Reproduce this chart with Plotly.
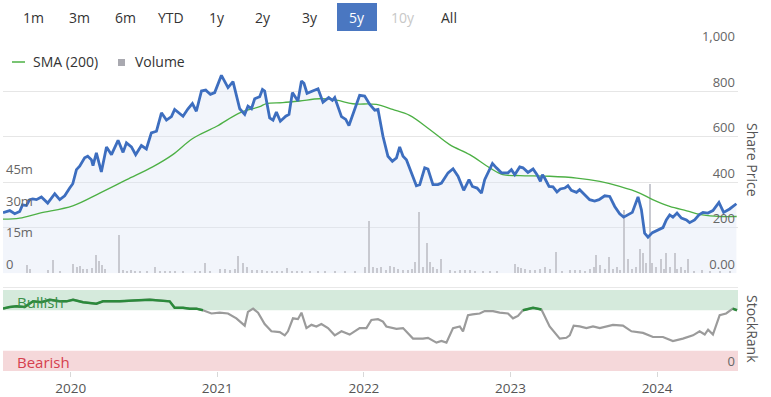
import plotly.graph_objects as go

# ---------------- data (x in decimal years) ----------------
price_year = [2019.538, 2019.584, 2019.618, 2019.652, 2019.671, 2019.698, 2019.720, 2019.741, 2019.766, 2019.800,
              2019.843, 2019.891, 2019.925, 2019.959, 2019.993, 2020.014, 2020.039, 2020.061, 2020.095, 2020.116,
              2020.141, 2020.152, 2020.175, 2020.209, 2020.244, 2020.278, 2020.323, 2020.357, 2020.380, 2020.414,
              2020.443, 2020.482, 2020.516, 2020.550, 2020.585, 2020.619, 2020.653, 2020.687, 2020.709, 2020.744,
              2020.766, 2020.800, 2020.830, 2020.857, 2020.892, 2020.921, 2020.953, 2020.982, 2021.028, 2021.073,
              2021.107, 2021.153, 2021.187, 2021.209, 2021.233, 2021.255, 2021.289, 2021.308, 2021.323, 2021.357,
              2021.380, 2021.403, 2021.430, 2021.467, 2021.489, 2021.512, 2021.550, 2021.574, 2021.591, 2021.612,
              2021.642, 2021.687, 2021.721, 2021.760, 2021.785, 2021.801, 2021.847, 2021.876, 2021.898, 2021.937,
              2021.971, 2022.005, 2022.040, 2022.074, 2022.096, 2022.130, 2022.164, 2022.194, 2022.222, 2022.244,
              2022.267, 2022.290, 2022.324, 2022.358, 2022.381, 2022.415, 2022.437, 2022.471, 2022.505, 2022.529,
              2022.574, 2022.608, 2022.642, 2022.681, 2022.717, 2022.740, 2022.772, 2022.802, 2022.824, 2022.877,
              2022.904, 2022.938, 2022.983, 2023.006, 2023.029, 2023.063, 2023.085, 2023.119, 2023.154, 2023.181,
              2023.204, 2023.218, 2023.233, 2023.263, 2023.290, 2023.317, 2023.340, 2023.370, 2023.392, 2023.415,
              2023.450, 2023.472, 2023.506, 2023.540, 2023.574, 2023.604, 2023.643, 2023.677, 2023.711, 2023.745,
              2023.772, 2023.802, 2023.831, 2023.870, 2023.893, 2023.915, 2023.938, 2023.968, 2024.006, 2024.040,
              2024.063, 2024.086, 2024.108, 2024.136, 2024.166, 2024.200, 2024.222, 2024.256, 2024.286, 2024.313,
              2024.347, 2024.381, 2024.422, 2024.454, 2024.495, 2024.541]
price_val = [267, 276, 262, 272, 301, 298, 324, 327, 324, 336,
             309, 350, 324, 341, 375, 394, 456, 471, 508, 515,
             500, 474, 530, 446, 556, 522, 585, 532, 574, 556,
             522, 562, 547, 618, 625, 706, 674, 689, 721, 703,
             691, 724, 747, 713, 802, 806, 787, 795, 871, 817,
             843, 724, 699, 735, 724, 768, 777, 809, 802, 684,
             674, 709, 669, 691, 699, 795, 758, 846, 836, 792,
             799, 812, 753, 773, 761, 773, 689, 677, 650, 721,
             783, 780, 743, 718, 721, 603, 515, 493, 508, 556,
             515, 500, 442, 385, 390, 464, 459, 390, 390, 397,
             442, 460, 427, 365, 412, 382, 375, 353, 412, 483,
             464, 442, 442, 456, 434, 468, 464, 444, 459, 434,
             404, 434, 419, 382, 380, 358, 371, 375, 385, 365,
             356, 368, 346, 324, 318, 324, 341, 338, 294, 262,
             247, 257, 268, 336, 280, 177, 159, 179, 191, 201,
             235, 257, 247, 265, 243, 235, 223, 235, 257, 268,
             265, 276, 312, 268, 283, 306]

sma_year = [2019.536, 2019.652, 2019.789, 2020.014, 2020.198, 2020.382, 2020.559, 2020.696, 2020.832, 2020.996,
            2021.153, 2021.289, 2021.335, 2021.446, 2021.562, 2021.698, 2021.812, 2021.924, 2022.085, 2022.196,
            2022.312, 2022.449, 2022.585, 2022.722, 2022.858, 2022.947, 2023.063, 2023.267, 2023.452, 2023.609,
            2023.745, 2023.881, 2023.970, 2024.086, 2024.202, 2024.311, 2024.427, 2024.543]
sma_val = [238, 243, 265, 297, 353, 412, 468, 522, 593, 647,
           706, 733, 747, 751, 758, 768, 762, 746, 743, 721,
           695, 633, 566, 522, 464, 434, 430, 427, 419, 404,
           382, 353, 324, 294, 275, 257, 250, 250]

vol_year = [2019.700, 2019.720, 2019.843, 2019.877, 2019.925, 2020.014, 2020.041, 2020.061, 2020.082, 2020.109,
            2020.143, 2020.171, 2020.191, 2020.211, 2020.232, 2020.327, 2020.355, 2020.382, 2020.409, 2020.437,
            2020.471, 2020.518, 2020.573, 2020.607, 2020.641, 2020.675, 2020.709, 2020.764, 2020.846, 2020.880,
            2020.914, 2020.948, 2021.016, 2021.050, 2021.085, 2021.119, 2021.139, 2021.173, 2021.201, 2021.235,
            2021.269, 2021.303, 2021.337, 2021.371, 2021.405, 2021.439, 2021.473, 2021.507, 2021.542, 2021.576,
            2021.630, 2021.685, 2021.733, 2021.801, 2021.869, 2021.937, 2022.005, 2022.033, 2022.060, 2022.087,
            2022.115, 2022.149, 2022.176, 2022.203, 2022.231, 2022.265, 2022.299, 2022.326, 2022.347, 2022.374,
            2022.401, 2022.428, 2022.449, 2022.469, 2022.497, 2022.524, 2022.585, 2022.619, 2022.654, 2022.688,
            2022.722, 2022.756, 2022.810, 2022.858, 2022.906, 2023.029, 2023.049, 2023.070, 2023.097, 2023.131,
            2023.165, 2023.199, 2023.233, 2023.267, 2023.313, 2023.350, 2023.404, 2023.438, 2023.472, 2023.506,
            2023.540, 2023.568, 2023.586, 2023.609, 2023.643, 2023.672, 2023.697, 2023.724, 2023.745, 2023.772,
            2023.799, 2023.827, 2023.859, 2023.886, 2023.904, 2023.922, 2023.950, 2023.968, 2023.995, 2024.029,
            2024.045, 2024.063, 2024.086, 2024.120, 2024.140, 2024.166, 2024.189, 2024.214, 2024.253, 2024.310,
            2024.359, 2024.427, 2024.495]
vol_m = [4, 2, 1.5, 6.5, 1, 4.5, 3, 3.5, 2, 2,
         2.5, 8.5, 6, 4, 2, 18, 1.5, 1, 1.5, 1,
         1, 1, 3, 1, 1, 1, 1, 1, 1, 1,
         5, 1, 2, 2, 1.5, 2, 8, 5, 3, 1.5,
         1.5, 1.5, 1, 1, 1, 1, 2.5, 1, 1, 1,
         1, 1, 1, 1, 1, 1, 3, 25, 3, 2.5,
         3, 1.5, 3.5, 3, 2, 1.5, 1.5, 2, 5.5, 29,
         3, 14.5, 5.5, 3, 2, 7, 1.5, 1, 1.5, 1.5,
         1.5, 1, 1, 1, 1, 4.5, 3, 2.5, 2, 1.5,
         1.5, 2, 3, 2, 10, 1, 1.5, 1.5, 1.5, 1,
         2, 3, 8.7, 4, 2, 7.6, 2, 3, 1.5, 30,
         6.8, 2, 3, 11.6, 9.5, 5, 42.5, 5, 3, 6.7,
         2, 9.8, 3, 9.8, 2, 3, 1.5, 6.7, 1, 1.5,
         1, 1, 1]

rank_year = [2019.538, 2019.584, 2019.630, 2019.686, 2019.743, 2019.800, 2019.857, 2019.925, 2019.971, 2020.016,
             2020.084, 2020.175, 2020.220, 2020.334, 2020.425, 2020.539, 2020.675, 2020.709, 2020.766, 2020.812,
             2020.857, 2020.902, 2020.960, 2021.016, 2021.073, 2021.130, 2021.187, 2021.209, 2021.244, 2021.278,
             2021.323, 2021.369, 2021.426, 2021.460, 2021.482, 2021.516, 2021.550, 2021.574, 2021.608, 2021.642,
             2021.676, 2021.710, 2021.755, 2021.801, 2021.847, 2021.903, 2021.971, 2022.017, 2022.051, 2022.096,
             2022.130, 2022.153, 2022.222, 2022.267, 2022.335, 2022.403, 2022.437, 2022.495, 2022.529, 2022.563,
             2022.608, 2022.654, 2022.676, 2022.710, 2022.741, 2022.790, 2022.824, 2022.881, 2022.926, 2022.983,
             2023.017, 2023.051, 2023.085, 2023.154, 2023.211, 2023.233, 2023.267, 2023.336, 2023.381, 2023.404,
             2023.431, 2023.472, 2023.518, 2023.563, 2023.609, 2023.699, 2023.767, 2023.825, 2023.904, 2023.972,
             2024.040, 2024.108, 2024.176, 2024.245, 2024.290, 2024.325, 2024.348, 2024.381, 2024.427, 2024.471,
             2024.516, 2024.545]
rank_val = [77, 79, 80, 79, 86, 85, 88, 86, 86, 88,
            85, 83, 86, 86, 87, 88, 86, 78, 78, 77,
            77, 75, 71, 72, 71, 65, 56, 73, 77, 72,
            58, 49, 48, 44, 49, 65, 64, 72, 53, 57,
            55, 58, 53, 44, 49, 45, 53, 53, 63, 64,
            61, 55, 52, 53, 40, 40, 41, 35, 37, 35,
            53, 55, 49, 69, 70, 71, 74, 74, 72, 71,
            65, 68, 75, 78, 76, 67, 55, 40, 41, 44,
            56, 55, 53, 55, 53, 57, 56, 49, 47, 42,
            42, 37, 40, 44, 49, 45, 51, 45, 69, 71,
            77, 75]

price_ticks = [0, 200, 400, 600, 800, 1000]
price_tick_text = ["0.00", "200", "400", "600", "800", "1,000"]
vol_ticks_m = [0, 15, 30, 45]
vol_tick_text = ["0", "15m", "30m", "45m"]
year_ticks = [2020, 2021, 2022, 2023, 2024]
year_tick_text = ["2020", "2021", "2022", "2023", "2024"]
buttons = ["1m", "3m", "6m", "YTD", "1y", "2y", "3y", "5y", "10y", "All"]
bull_threshold = 75

# ---------------- geometry helpers (pixel -> paper) ----------------
W, H = 771, 397
ML, MR, MT, MB = 3, 33, 46, 26
PW, PH = W - ML - MR, H - MT - MB


def px(x):
    return (x - ML) / PW


def py(y):
    return (H - MB - y) / PH


FONT = "Open Sans"
fig = go.Figure()

# price area fill
fig.add_trace(go.Scatter(x=price_year, y=price_val, mode="lines", fill="tozeroy",
                         fillcolor="rgba(222,228,245,0.38)", line=dict(width=0, color="rgba(0,0,0,0)"),
                         xaxis="x", yaxis="y", hoverinfo="skip", showlegend=False))
# volume bars
fig.add_trace(go.Bar(x=vol_year, y=[v * 1e6 for v in vol_m], width=0.0085,
                     marker=dict(color="rgb(200,201,208)", line=dict(width=0)),
                     xaxis="x", yaxis="y2", name="Volume", showlegend=False))
# SMA
fig.add_trace(go.Scatter(x=sma_year, y=sma_val, mode="lines", line=dict(color="#4db045", width=1.3, shape="spline"),
                         xaxis="x", yaxis="y3", name="SMA (200)", showlegend=False))
# price
fig.add_trace(go.Scatter(x=price_year, y=price_val, mode="lines", line=dict(color="#3d6ebf", width=2.8),
                         xaxis="x", yaxis="y3", name="Share Price", showlegend=False))
# stockrank
fig.add_trace(go.Scatter(x=rank_year, y=rank_val, mode="lines", line=dict(color="#9b9b9b", width=2.2),
                         xaxis="x2", yaxis="y4", showlegend=False))
green_rank = [v if v >= bull_threshold else None for v in rank_val]
fig.add_trace(go.Scatter(x=rank_year, y=green_rank, mode="lines", line=dict(color="#2b8a3b", width=2.5),
                         connectgaps=False, xaxis="x2", yaxis="y4", showlegend=False))

xr = [2019.538, 2024.552]
main_dom = [py(273.3), 1]
rank_dom = [0, py(290)]

shapes = [
    dict(type="rect", xref="x2 domain", yref="y4", x0=0, x1=1, y0=75, y1=100,
         fillcolor="#d5eadc", line=dict(width=0), layer="below"),
    dict(type="rect", xref="x2 domain", yref="y4", x0=0, x1=1, y0=0, y1=25,
         fillcolor="#f5d8da", line=dict(width=0), layer="below"),
    dict(type="line", xref="paper", yref="paper", x0=0, x1=1, y0=py(287.5), y1=py(287.5),
         line=dict(color="#e8e8e8", width=1)),
    # active 5y button
    dict(type="rect", xref="paper", yref="paper", x0=px(337), x1=px(377), y0=py(31), y1=py(3),
         fillcolor="#4a77c1", line=dict(width=0)),
    # legend symbols
    dict(type="line", xref="paper", yref="paper", x0=px(12), x1=px(25), y0=py(62), y1=py(62),
         line=dict(color="#4db045", width=1.5)),
    dict(type="rect", xref="paper", yref="paper", x0=px(118), x1=px(125), y0=py(66), y1=py(59),
         fillcolor="#a9a9b0", line=dict(width=0)),
]

annotations = []
btn_x = [33, 79, 125, 171, 217, 263, 310, 357, 403, 449]
for b, bx in zip(buttons, btn_x):
    col = "#333333"
    if b == "5y":
        col = "white"
    elif b == "10y":
        col = "#c8c8c8"
    annotations.append(dict(x=px(bx), y=py(17), xref="paper", yref="paper", text=b, showarrow=False,
                            font=dict(family=FONT, size=14, color=col), xanchor="center", yanchor="middle"))

annotations += [
    dict(x=px(31), y=py(62), xref="paper", yref="paper", text="SMA (200)", showarrow=False,
         font=dict(family=FONT, size=14, color="#333"), xanchor="left", yanchor="middle"),
    dict(x=px(133), y=py(62), xref="paper", yref="paper", text="Volume", showarrow=False,
         font=dict(family=FONT, size=14, color="#333"), xanchor="left", yanchor="middle"),
    dict(x=px(15), y=py(302), xref="paper", yref="paper", text="Bullish", showarrow=False,
         font=dict(family=FONT, size=15, color="#3a8f48"), xanchor="left", yanchor="middle"),
    dict(x=px(15), y=py(362), xref="paper", yref="paper", text="Bearish", showarrow=False,
         font=dict(family=FONT, size=15, color="#d6404e"), xanchor="left", yanchor="middle"),
    dict(x=px(753), y=py(160), xref="paper", yref="paper", text="Share Price", showarrow=False,
         textangle=90, font=dict(family=FONT, size=14, color="#555"), xanchor="center", yanchor="middle"),
    dict(x=px(753), y=py(329), xref="paper", yref="paper", text="StockRank", showarrow=False,
         textangle=90, font=dict(family=FONT, size=14, color="#555"), xanchor="center", yanchor="middle"),
]

tickfont = dict(family=FONT, size=13, color="#666")
fig.update_layout(
    width=W, height=H, margin=dict(l=ML, r=MR, t=MT, b=MB, autoexpand=False),
    paper_bgcolor="white", plot_bgcolor="white", showlegend=False, hovermode=False,
    bargap=0,
    xaxis=dict(domain=[0, 1], range=xr, anchor="y", showticklabels=False, showgrid=False,
               zeroline=False, showline=False, ticks="", automargin=False),
    xaxis2=dict(domain=[0, 1], range=xr, anchor="y4", matches="x", tickvals=year_ticks, ticktext=year_tick_text,
                ticks="outside", ticklen=5, tickcolor="#d8d8d8", showgrid=False, zeroline=False, showline=False,
                tickfont=dict(family=FONT, size=13.5, color="#555"), automargin=False),
    yaxis=dict(domain=main_dom, range=[0, 1000], side="right", tickvals=price_ticks, ticktext=price_tick_text,
               ticklabelposition="inside top", ticklabeloverflow="allow", gridcolor="#e6e6e6",
               zeroline=False, showline=False, tickfont=tickfont, anchor="x", automargin=False),
    yaxis2=dict(overlaying="y", side="left", range=[0, 108e6], tickvals=[v * 1e6 for v in vol_ticks_m],
                ticktext=vol_tick_text, ticklabelposition="inside top", ticklabeloverflow="allow",
                showgrid=False, zeroline=False, showline=False, tickfont=tickfont, anchor="x", automargin=False),
    yaxis3=dict(overlaying="y", range=[0, 1000], visible=False, anchor="x"),
    yaxis4=dict(domain=rank_dom, range=[0, 100], side="right", tickvals=[0], ticktext=["0"],
                ticklabelposition="inside top", ticklabeloverflow="allow", showgrid=False,
                zeroline=False, showline=False, tickfont=tickfont, anchor="x2", automargin=False),
    shapes=shapes, annotations=annotations,
)

fig.write_html("out.html", config={"displayModeBar": False},
               post_script="document.body.style.margin='0';document.body.style.padding='0';"
                           "document.body.style.overflow='hidden';")
